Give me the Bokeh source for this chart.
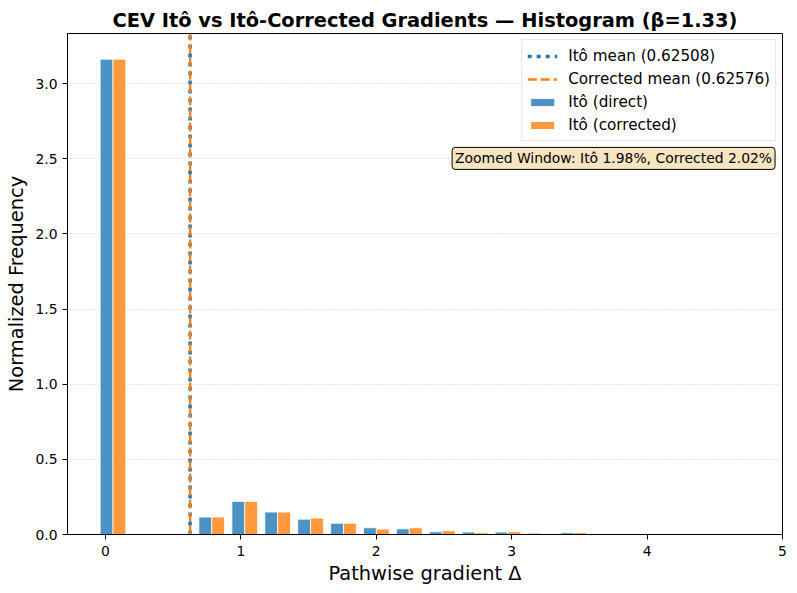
from bokeh.plotting import figure
from bokeh.models import Range1d, FixedTicker, PrintfTickFormatter, Label, Legend, LegendItem, ColumnDataSource
from bokeh.embed import file_html
from bokeh.resources import INLINE

# ---- data ----
bin_centers = [0.056, 0.299, 0.542, 0.785, 1.029, 1.272, 1.515, 1.758, 2.001, 2.244,
               2.487, 2.730, 2.973, 3.216, 3.459, 3.702, 3.945, 4.188, 4.431, 4.674]
ito_direct = [3.162, 0.0, 0.0, 0.116, 0.220, 0.149, 0.102, 0.075, 0.045, 0.038,
              0.018, 0.016, 0.016, 0.009, 0.012, 0.0, 0.0, 0.0, 0.0, 0.0]
ito_corrected = [3.162, 0.0, 0.0, 0.116, 0.220, 0.149, 0.109, 0.075, 0.036, 0.045,
                 0.025, 0.011, 0.018, 0.004, 0.012, 0.0, 0.0, 0.004, 0.0, 0.0]
ito_mean = 0.62508
corrected_mean = 0.62576
x_ticks = [0, 1, 2, 3, 4, 5]
y_ticks = [0.0, 0.5, 1.0, 1.5, 2.0, 2.5, 3.0]
x_lo, x_hi = -0.28, 5.0
y_lo, y_hi = 0.0, 3.333

BLUE = "#1f77b4"
ORANGE = "#ff7f0e"
FONT = "DejaVu Sans"
bar_w = 0.095
half = bar_w / 2

src = ColumnDataSource(dict(
    xb=[c - half for c in bin_centers],
    xo=[c + half for c in bin_centers],
    d=ito_direct,
    c=ito_corrected,
))

p = figure(width=796, height=592, output_backend="svg", toolbar_location=None,
           x_range=Range1d(x_lo, x_hi), y_range=Range1d(y_lo, y_hi),
           min_border_left=67, min_border_right=14, min_border_top=33, min_border_bottom=58)

p.title.text = "CEV Itô vs Itô-Corrected Gradients — Histogram (β=1.33)"
p.title.align = "center"
p.title.text_font = FONT
p.title.text_font_size = "19.4px"
p.title.text_font_style = "bold"
p.title.text_color = "black"
p.title.standoff = 3

p.outline_line_color = "black"
p.outline_line_width = 1
p.background_fill_color = "white"
p.border_fill_color = "white"

p.xgrid.visible = False
p.ygrid.grid_line_color = "#b0b0b0"
p.ygrid.grid_line_alpha = 0.6
p.ygrid.grid_line_dash = "1 2"
p.ygrid.ticker = FixedTicker(ticks=y_ticks)

for ax in (p.xaxis[0], p.yaxis[0]):
    ax.axis_line_color = "black"
    ax.major_tick_line_color = "black"
    ax.major_tick_out = 5
    ax.major_tick_in = 0
    ax.minor_tick_line_color = None
    ax.major_label_text_font = FONT
    ax.major_label_text_font_size = "13.9px"
    ax.major_label_text_color = "black"
    ax.axis_label_text_font = FONT
    ax.axis_label_text_font_size = "19.4px"
    ax.axis_label_text_font_style = "normal"
    ax.axis_label_text_color = "black"

p.xaxis.ticker = FixedTicker(ticks=x_ticks)
p.yaxis.ticker = FixedTicker(ticks=y_ticks)
p.yaxis.formatter = PrintfTickFormatter(format="%.1f")
p.xaxis.axis_label = "Pathwise gradient Δ"
p.yaxis.axis_label = "Normalized Frequency"
p.xaxis.major_label_standoff = 6
p.yaxis.major_label_standoff = 5
p.xaxis.axis_label_standoff = 3
p.yaxis.axis_label_standoff = 4

r_blue_line = p.line(x=[ito_mean, ito_mean], y=[y_lo, y_hi], line_color=BLUE,
                     line_width=3.5, line_dash="4 5")
r_orange_line = p.line(x=[corrected_mean, corrected_mean], y=[y_lo, y_hi], line_color=ORANGE,
                       line_width=2.3, line_dash="9 4")

r_b = p.vbar(x="xb", top="d", width=bar_w, source=src, fill_color=BLUE, fill_alpha=0.8,
             line_color="white", line_width=0.8)
r_o = p.vbar(x="xo", top="c", width=bar_w, source=src, fill_color=ORANGE, fill_alpha=0.8,
             line_color="white", line_width=0.8)

legend = Legend(items=[
    LegendItem(label="Itô mean (0.62508)", renderers=[r_blue_line]),
    LegendItem(label="Corrected mean (0.62576)", renderers=[r_orange_line]),
    LegendItem(label="Itô (direct)", renderers=[r_b]),
    LegendItem(label="Itô (corrected)", renderers=[r_o]),
], location="top_right")
legend.label_text_font = FONT
legend.label_text_font_size = "15.2px"
legend.label_text_color = "black"
legend.glyph_width = 30
legend.glyph_height = 10
legend.label_height = 21
legend.label_standoff = 11
legend.spacing = 2
legend.padding = 5
legend.margin = 6
legend.border_line_color = "#cccccc"
legend.border_line_width = 1
legend.background_fill_color = "white"
legend.background_fill_alpha = 0.8
p.add_layout(legend)

note = Label(x=4.945, y=2.502, text="Zoomed Window: Itô 1.98%, Corrected 2.02%",
             text_align="right", text_baseline="middle",
             text_font=FONT, text_font_size="13.9px", text_color="black",
             background_fill_color="#f5deb3", background_fill_alpha=0.8,
             border_line_color="black", border_line_width=1,
             padding=3, border_radius=3)
p.add_layout(note)

open("out.html", "w").write(file_html(p, INLINE))
